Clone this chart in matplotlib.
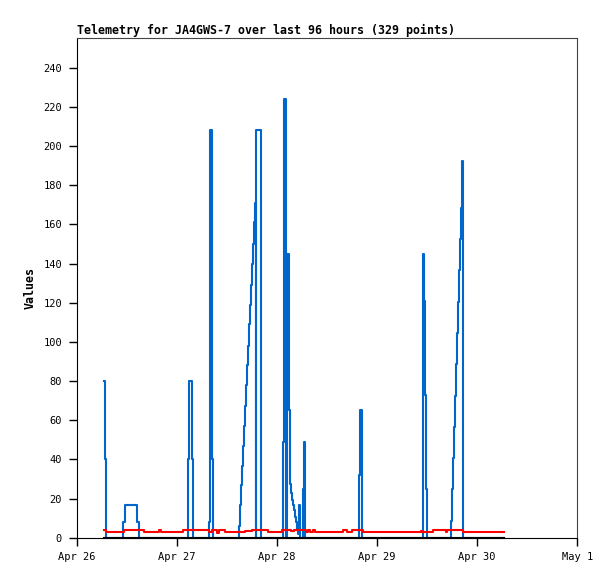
import matplotlib
matplotlib.use('Agg')
import matplotlib.pyplot as plt

# hours since Apr 26 00:00
blue_t = [6.5, 6.9, 7.0, 11.1, 11.5, 14.5, 14.9,
          26.75, 27.0, 27.7, 27.95,
          31.8, 32.0, 32.35, 32.5, 32.75,
          38.85, 39.15, 39.4, 39.6, 39.8, 40.0, 40.25, 40.5, 40.75, 41.0,
          41.2, 41.45, 41.7, 41.95, 42.2, 42.4, 42.65, 42.9, 43.05, 44.25,
          49.5, 49.75, 50.1, 50.5, 50.8, 51.05, 51.2, 51.45, 51.7, 51.9,
          52.15, 52.4, 52.65, 52.9, 53.1, 53.35, 53.6, 54.3, 54.55, 54.8,
          67.75, 68.0, 68.3,
          83.1, 83.3, 83.55, 83.8, 84.05,
          89.65, 89.9, 90.1, 90.35, 90.6, 90.85, 91.1, 91.3, 91.55, 91.8,
          92.05, 92.3, 92.45, 92.65, 102.35]
blue_v = [80, 40, 0, 8, 16.5, 8, 0,
          40, 80, 40, 0,
          8, 208, 80, 40, 0,
          6, 16.5, 26.7, 36.8, 47, 57, 67, 78, 88, 98,
          109, 119, 129, 140, 150, 161, 171, 0, 208, 0,
          49, 224, 0, 145, 65, 31, 27.5, 23, 19, 16.5,
          14, 10.5, 8, 4.5, 2, 16.5, 0, 25, 49, 0,
          32, 65, 0,
          145, 121, 73, 25, 0,
          8.5, 25, 40.6, 56.6, 72.5, 88.7, 104.5, 120.6, 136.6, 152.4,
          168.5, 184.6, 192.6, 0, 0]

red_t = [6.55, 7.0, 11.35, 16.1, 19.7, 20.2, 25.5, 31.7, 32.4, 33.6, 34.1,
         35.55, 40.35, 42.0, 45.85, 49.2, 51.4, 52.1, 54.95, 55.45, 55.9,
         56.65, 57.1, 63.8, 64.8, 66.0, 68.6, 82.5, 82.8, 85.4, 88.5, 88.75,
         92.6, 102.35]
red_v = [4, 3, 4, 3, 4, 3, 4, 3, 4, 2.5, 4,
         3, 3.5, 4, 3, 4, 3.5, 4, 3, 4, 3,
         4, 3, 4, 3, 4, 3, 3.5, 3, 4, 3, 4,
         3, 3]

black_t = [6.55, 102.35]
black_v = [0, 0]

tick_hours = [0, 24, 48, 72, 96, 120]
tick_labels = ['Apr 26', 'Apr 27', 'Apr 28', 'Apr 29', 'Apr 30', 'May 1']

plt.rcParams['font.family'] = ['DejaVu Sans Mono']

fig = plt.figure(figsize=(6.15, 5.79), dpi=100)
ax = fig.add_axes([76.7 / 615, (579 - 537.7) / 579, 500.6 / 615, 499.4 / 579])

ax.plot(blue_t, blue_v, drawstyle='steps-post', color='#0066cc', lw=1.5)
ax.plot(red_t, red_v, drawstyle='steps-post', color='#ff0000', lw=1.5)
ax.plot(black_t, black_v, color='black', lw=1.5, clip_on=False, zorder=3)

ax.set_xlim(0, 120)
ax.set_ylim(0, 255)
ax.set_xticks(tick_hours)
ax.set_xticklabels(tick_labels)
ax.set_yticks(range(0, 241, 20))
ax.tick_params(direction='out', length=5.5, width=1, labelsize=7.5, pad=5)

for side in ['top', 'right']:
    ax.spines[side].set_color('#444444')
for side in ['left', 'bottom']:
    ax.spines[side].set_color('black')

ax.set_title('Telemetry for JA4GWS-7 over last 96 hours (329 points)',
             loc='left', fontsize=8.35, fontweight='bold', pad=3)
ax.set_ylabel('Values', fontsize=8.35, fontweight='bold', labelpad=5)

fig.savefig('out.png', dpi=100)
